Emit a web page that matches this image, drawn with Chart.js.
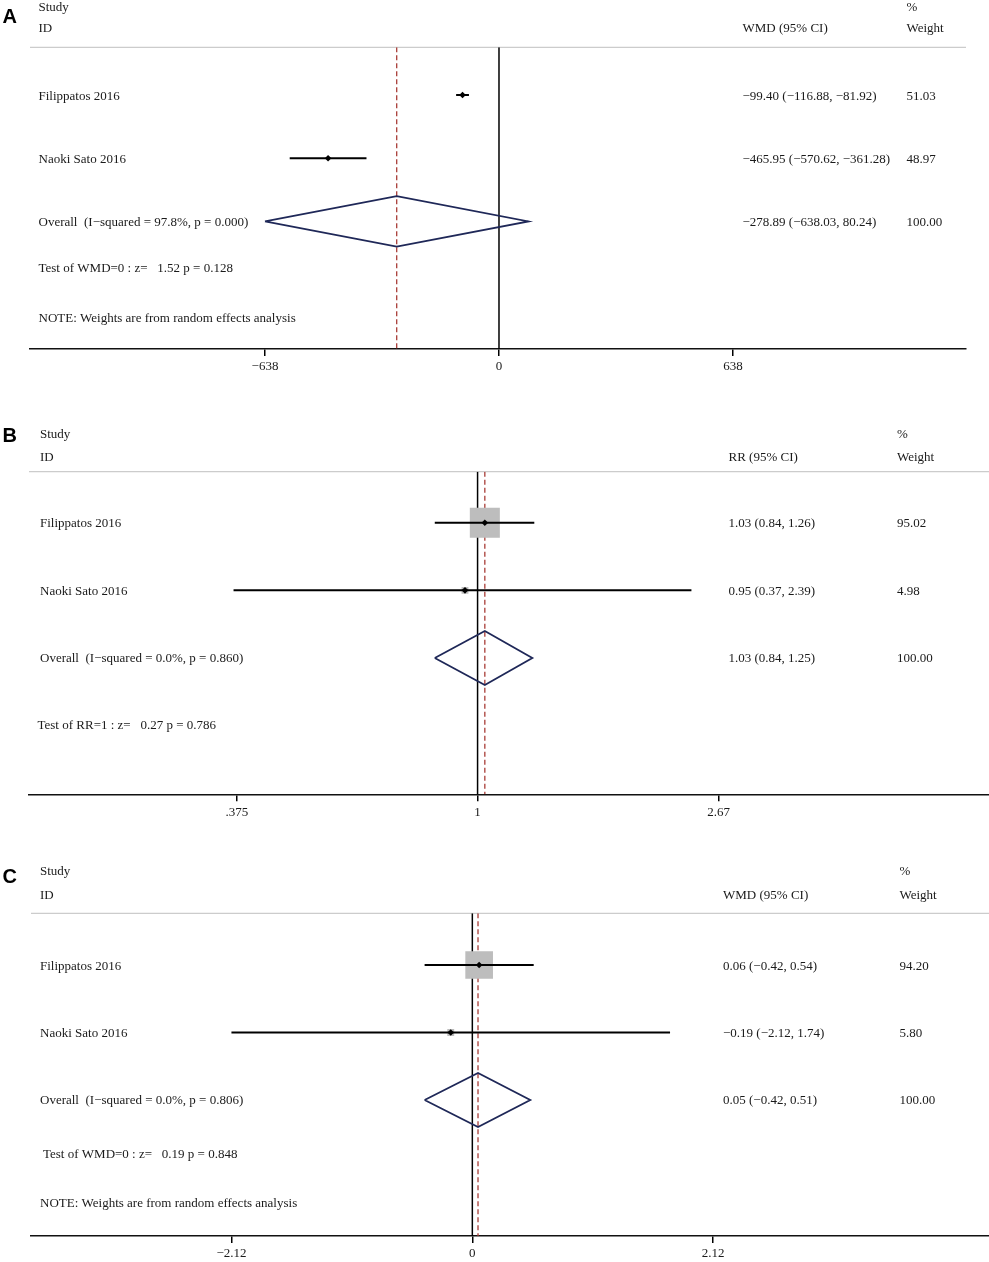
<!DOCTYPE html>
<html>
<head>
<meta charset="utf-8">
<script src="https://cdn.jsdelivr.net/npm/chart.js@4.4.0/dist/chart.umd.min.js"></script>
<style>
html, body { margin: 0; padding: 0; background: #ffffff; }
#wrap { position: relative; width: 989px; height: 1262px; overflow: hidden; background: #ffffff; }
canvas { position: absolute; left: 0; }
</style>
</head>
<body>
<div id="wrap">
  <canvas id="cA" width="989" height="385" style="top:0px;width:989px;height:385px"></canvas>
  <canvas id="cB" width="989" height="440" style="top:385px;width:989px;height:440px"></canvas>
  <canvas id="cC" width="989" height="437" style="top:825px;width:989px;height:437px"></canvas>
</div>
<script>
// ---------------- DATA ----------------
const studies = ["Filippatos 2016", "Naoki Sato 2016"];

// Panel A (WMD)
const aEst = [-99.40, -465.95];
const aLow = [-116.88, -570.62];
const aHigh = [-81.92, -361.28];
const aWeight = [51.03, 48.97];
const aOverall = [-278.89, -638.03, 80.24];   // estimate, low, high
const aTicks = [-638, 0, 638];
const aTickLabels = ["\u2212638", "0", "638"];
const aOverallLabel = "Overall  (I\u2212squared = 97.8%, p = 0.000)";
const aTestLabel = "Test of WMD=0 : z=   1.52 p = 0.128";

// Panel B (RR)
const bEst = [1.03, 0.95];
const bLow = [0.84, 0.37];
const bHigh = [1.26, 2.39];
const bWeight = [95.02, 4.98];
const bOverall = [1.03, 0.84, 1.25];
const bTicks = [0.375, 1, 2.67];
const bTickLabels = [".375", "1", "2.67"];
const bOverallLabel = "Overall  (I\u2212squared = 0.0%, p = 0.860)";
const bTestLabel = "Test of RR=1 : z=   0.27 p = 0.786";

// Panel C (WMD)
const cEst = [0.06, -0.19];
const cLow = [-0.42, -2.12];
const cHigh = [0.54, 1.74];
const cWeight = [94.20, 5.80];
const cOverall = [0.05, -0.42, 0.51];
const cTicks = [-2.12, 0, 2.12];
const cTickLabels = ["\u22122.12", "0", "2.12"];
const cOverallLabel = "Overall  (I\u2212squared = 0.0%, p = 0.806)";
const cTestLabel = "Test of WMD=0 : z=   0.19 p = 0.848";

const noteLabel = "NOTE: Weights are from random effects analysis";

// ---------------- HELPERS ----------------
const FONT = '13px "Liberation Serif", "Times New Roman", serif';
const TEXT = '#1a1a1a';
const NAVY = '#1f2858';
const RED = '#a83c36';
const BOX = '#bdbdbd';

function fmt(v) { return v.toFixed(2).replace('-', '\u2212'); }
function ciText(e, l, h) { return fmt(e) + ' (' + fmt(l) + ', ' + fmt(h) + ')'; }

function makePanel(id, d, L) {
  const n = d.est.length;
  const r = n; // overall row
  const h = 0.4; // diamond half-height in row units
  const datasets = [];
  datasets.push({
    data: d.est.map((v, i) => ({ x: v, y: i })),
    showLine: false, pointStyle: 'rectRot', pointRadius: 3.3,
    pointBackgroundColor: '#000', pointBorderWidth: 0, order: 1
  });
  datasets.push({
    data: [
      { x: d.overall[1], y: r }, { x: d.overall[0], y: r - h },
      { x: d.overall[2], y: r }, { x: d.overall[0], y: r + h },
      { x: d.overall[1], y: r }
    ],
    showLine: true, borderColor: NAVY, borderWidth: 1.8, pointRadius: 0,
    fill: false, tension: 0, borderJoinStyle: 'miter', order: 1
  });
  for (let i = 0; i < n; i++) {
    datasets.push({
      data: [{ x: d.low[i], y: i }, { x: d.high[i], y: i }],
      showLine: true, borderColor: '#000', borderWidth: 2, pointRadius: 0, order: 2
    });
  }
  datasets.push({
    data: d.est.map((v, i) => ({ x: v, y: i })),
    showLine: false, pointStyle: 'rect',
    pointRadius: (ctx) => L.boxScale * Math.sqrt(d.weight[ctx.dataIndex]) / Math.SQRT2,
    pointBackgroundColor: BOX, pointBorderWidth: 0, order: 3
  });
  datasets.push({
    data: [{ x: d.overall[0], y: L.ymin }, { x: d.overall[0], y: L.ymax }],
    showLine: true, borderColor: RED, borderWidth: 1.3, borderDash: [5, 3],
    pointRadius: 0, order: 4
  });
  datasets.push({
    data: [{ x: d.nullValue, y: L.ymin }, { x: d.nullValue, y: L.ymax }],
    showLine: true, borderColor: '#000', borderWidth: 1.5, pointRadius: 0, order: 5
  });

  const textPlugin = {
    id: 'forestText',
    beforeDatasetsDraw(chart) {
      const ctx = chart.ctx, ca = chart.chartArea;
      ctx.save();
      ctx.strokeStyle = '#cccccc';
      ctx.lineWidth = 1.3;
      ctx.beginPath();
      ctx.moveTo(ca.left, ca.top);
      ctx.lineTo(ca.right, ca.top);
      ctx.stroke();
      ctx.restore();
    },
    afterDraw(chart) {
      const ctx = chart.ctx, ys = chart.scales.y;
      const rowY = (v) => ys.getPixelForValue(v) + 4.5;
      ctx.save();
      ctx.font = 'bold 20px "Liberation Sans", Arial, sans-serif';
      ctx.fillStyle = '#000';
      ctx.textAlign = 'left';
      ctx.textBaseline = 'alphabetic';
      ctx.fillText(L.letter, 2.5, L.letterY);

      ctx.font = FONT;
      ctx.fillStyle = TEXT;
      ctx.fillText('Study', L.leftX, L.studyY);
      ctx.fillText('ID', L.leftX, L.idY);
      ctx.fillText('%', L.wX, L.studyY);
      ctx.fillText('Weight', L.wX, L.idY);
      ctx.fillText(d.measure + ' (95% CI)', L.ciX, L.idY);

      for (let i = 0; i < n; i++) {
        const y = rowY(i);
        ctx.fillText(studies[i], L.leftX, y);
        ctx.fillText(ciText(d.est[i], d.low[i], d.high[i]), L.ciX, y);
        ctx.fillText(d.weight[i].toFixed(2), L.wX, y);
      }
      const yo = rowY(r);
      ctx.fillText(d.overallLabel, L.leftX, yo);
      ctx.fillText(ciText(d.overall[0], d.overall[1], d.overall[2]), L.ciX, yo);
      const tot = d.weight.reduce((a, b) => a + b, 0);
      ctx.fillText(tot.toFixed(2), L.wX, yo);

      ctx.fillText(d.testLabel, L.testX, rowY(L.testRow));
      if (d.note) ctx.fillText(d.note, L.leftX, rowY(L.noteRow));
      ctx.restore();
    }
  };

  return new Chart(document.getElementById(id), {
    type: 'scatter',
    data: { datasets },
    options: {
      responsive: false,
      animation: false,
      events: [],
      layout: { padding: L.padding, autoPadding: false },
      plugins: { legend: { display: false }, tooltip: { enabled: false }, title: { display: false } },
      scales: {
        x: {
          type: L.xType,
          position: 'bottom',
          min: L.xmin, max: L.xmax,
          bounds: 'data',
          afterBuildTicks: (s) => { s.ticks = d.ticks.map(v => ({ value: v })); },
          afterFit: (s) => { s.height = 26; s.paddingLeft = 0; s.paddingRight = 0; },
          ticks: {
            autoSkip: false, maxRotation: 0, minRotation: 0,
            padding: 3,
            color: TEXT,
            font: { family: '"Liberation Serif", "Times New Roman", serif', size: 13 },
            callback: (v, i) => d.tickLabels[i]
          },
          grid: { display: true, drawOnChartArea: false, drawTicks: true, tickLength: 7, color: '#000', lineWidth: 1.5 },
          border: { display: true, color: '#111', width: 1.6 }
        },
        y: { type: 'linear', display: false, reverse: true, min: L.ymin, max: L.ymax }
      }
    },
    plugins: [textPlugin]
  });
}

// ---------------- PANELS ----------------
makePanel('cA', {
  est: aEst, low: aLow, high: aHigh, weight: aWeight, overall: aOverall,
  ticks: aTicks, tickLabels: aTickLabels, nullValue: 0, measure: 'WMD',
  overallLabel: aOverallLabel, testLabel: aTestLabel, note: noteLabel
}, {
  letter: 'A', letterY: 23.3, studyY: 11, idY: 31.7,
  leftX: 38.5, testX: 38.5, ciX: 742.5, wX: 906.5,
  testRow: 2.73, noteRow: 3.52,
  padding: { left: 30, right: 23, top: 47.3, bottom: 10 },
  xType: 'linear', xmin: -1278.7, xmax: 1273.3,
  ymin: -0.755, ymax: 4.019, boxScale: 0
});

makePanel('cB', {
  est: bEst, low: bLow, high: bHigh, weight: bWeight, overall: bOverall,
  ticks: bTicks, tickLabels: bTickLabels, nullValue: 1, measure: 'RR',
  overallLabel: bOverallLabel, testLabel: bTestLabel, note: null
}, {
  letter: 'B', letterY: 57.3, studyY: 52.5, idY: 76,
  leftX: 40, testX: 37.5, ciX: 728.5, wX: 897,
  testRow: 2.99, noteRow: 3.52,
  padding: { left: 29, right: 0, top: 86.7, bottom: 4.7 },
  xType: 'logarithmic', xmin: 0.1608, xmax: 8.034,
  ymin: -0.754, ymax: 4.015, boxScale: 3.08
});

makePanel('cC', {
  est: cEst, low: cLow, high: cHigh, weight: cWeight, overall: cOverall,
  ticks: cTicks, tickLabels: cTickLabels, nullValue: 0, measure: 'WMD',
  overallLabel: cOverallLabel, testLabel: cTestLabel, note: noteLabel
}, {
  letter: 'C', letterY: 58, studyY: 49.5, idY: 73.8,
  leftX: 40, testX: 43, ciX: 723, wX: 899.5,
  testRow: 2.79, noteRow: 3.52,
  padding: { left: 31, right: 0, top: 88.3, bottom: 0 },
  xType: 'linear', xmin: -3.884, xmax: 4.547,
  ymin: -0.766, ymax: 4.015, boxScale: 2.85
});
</script>
</body>
</html>
